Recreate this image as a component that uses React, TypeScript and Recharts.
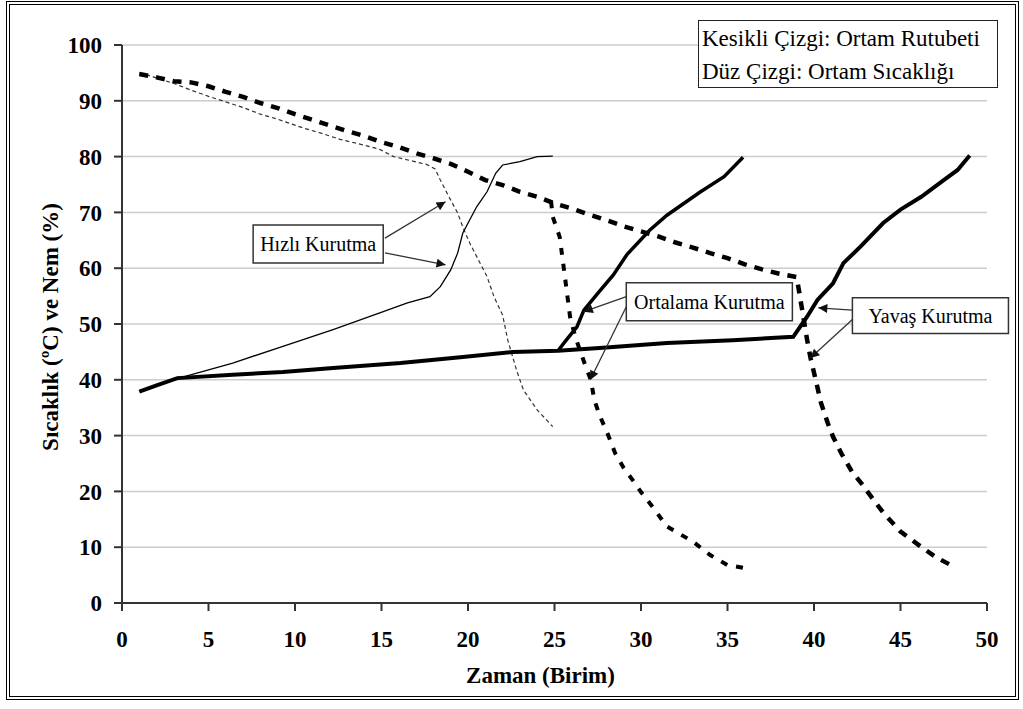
import {
  LineChart,
  Line,
  XAxis,
  YAxis,
  CartesianGrid,
  ReferenceArea,
  ReferenceLine,
} from "recharts";

// Zaman (x) / değer (y) çiftleri
const humYavas = [
  [1, 94.8], [2, 94.2], [3, 93.5], [4, 93.3], [5, 92.6], [6, 91.6], [7, 90.7],
  [8, 89.6], [9, 88.7], [10, 87.6], [11, 86.6], [12, 85.6], [13, 84.6], [14, 83.7],
  [15, 82.6], [16, 81.7], [17, 80.6], [18, 79.7], [19, 78.7], [20, 77.3], [21, 75.8],
  [22, 74.9], [23, 73.7], [24, 72.8], [25, 71.6], [26, 70.7], [27, 69.6], [28, 68.6],
  [29, 67.5], [30, 66.6], [31, 65.7], [32, 64.6], [33, 63.7], [34, 62.7], [35, 61.8],
  [36, 60.7], [37, 59.8], [38, 59.0], [39, 58.4], [39.2, 54.7], [39.6, 47.2],
  [39.8, 43.9], [40.1, 40.0], [40.4, 35.9], [40.8, 32.2], [41.1, 29.8], [41.6, 26.7],
  [42.2, 23.5], [42.8, 21.2], [43.1, 19.9], [44, 16.2], [45, 12.8], [46, 10.5],
  [47, 8.3], [48.2, 6.3],
];

const humOrta = [
  [24.8, 72.0], [24.9, 69.2], [25.3, 65.6], [25.5, 60.9], [25.7, 56.1], [25.9, 51.3],
  [26.2, 47.7], [26.8, 42.4], [27.1, 40.0], [27.3, 36.4], [27.6, 33.7], [28.1, 30.1],
  [28.5, 26.9], [29, 24.2], [29.5, 22.1], [30, 19.9], [30.7, 17.1], [31.5, 13.7],
  [32, 12.8], [33, 11.0], [34, 8.6], [35, 6.8], [35.9, 6.3],
];

const humHizli = [
  [1, 95.0], [1.8, 94.3], [3, 93.1], [4, 91.9], [5, 90.8], [6, 89.8], [7, 88.8],
  [8, 87.6], [9, 86.7], [10.5, 85.1], [11.5, 84.2], [12.6, 83.1], [13.8, 82.2],
  [14.9, 81.3], [15.7, 80.0], [16.8, 79.2], [17.6, 78.6], [18.1, 77.8], [18.4, 75.8],
  [19, 72.2], [19.4, 69.9], [19.7, 67.4], [20.1, 64.5], [20.7, 60.9], [21.1, 58.5],
  [21.5, 54.9], [22, 51.6], [22.3, 47.1], [22.8, 41.8], [23.2, 38.2], [24, 34.6],
  [24.9, 31.6],
];

const tempYavas = [
  [1, 37.9], [2, 39.0], [3.2, 40.3], [6.4, 40.9], [9.3, 41.4], [12.2, 42.1],
  [16.1, 43.0], [19.7, 44.1], [22.6, 45.0], [25.2, 45.2], [27.6, 45.7], [31.5, 46.6],
  [35.3, 47.1], [38.8, 47.7], [39.6, 51.3], [40.2, 54.3], [41.1, 57.3], [41.7, 60.9],
  [42.7, 63.9], [44, 68.1], [45, 70.5], [46.2, 72.8], [47.5, 75.8], [48.3, 77.6],
  [49, 80.2],
];

const tempOrta = [
  [25.2, 45.2], [25.7, 47.2], [26.3, 49.5], [26.7, 52.5], [27.5, 55.5], [28.4, 58.8],
  [29.2, 62.5], [30.5, 66.8], [31.5, 69.5], [33.4, 73.6], [34.8, 76.4], [35.9, 79.9],
];

const tempHizli = [
  [3.5, 40.5], [6.4, 43.0], [9.3, 46.0], [12.2, 49.0], [14.9, 52.0], [16.5, 53.8],
  [17.8, 54.9], [18.4, 56.7], [19, 59.7], [19.4, 62.7], [19.7, 66.3], [20.5, 71.0],
  [21.1, 73.7], [21.6, 77.0], [22, 78.5], [23, 79.1], [24, 80.0], [24.9, 80.1],
];

const xTicks = [0, 5, 10, 15, 20, 25, 30, 35, 40, 45, 50];
const yTicks = [0, 10, 20, 30, 40, 50, 60, 70, 80, 90, 100];

const legendLines = ["Kesikli Çizgi: Ortam Rutubeti", "Düz Çizgi: Ortam Sıcaklığı"];

// açıklama kutuları ve oklar (veri koordinatlarında)
const notes = [
  {
    text: "Hızlı Kurutma",
    box: [7.58, 15.1, 60.95, 67.76],
    arrows: [
      [15.2, 65.4, 18.7, 71.9],
      [15.2, 62.75, 18.7, 60.6],
    ],
  },
  {
    text: "Ortalama Kurutma",
    box: [29.15, 38.75, 50.6, 57.4],
    arrows: [
      [29.15, 54.9, 26.7, 52.2],
      [29.15, 53.1, 27.07, 40.0],
    ],
  },
  {
    text: "Yavaş Kurutma",
    box: [42.22, 51.24, 48.3, 54.7],
    arrows: [
      [42.22, 52.5, 40.25, 52.9],
      [42.22, 50.8, 39.79, 43.9],
    ],
  },
];

const toPts = (a: number[][]) => a.map(([x, y]) => ({ x, y }));

const serif = "Liberation Serif, DejaVu Serif, Times New Roman, serif";
const tickStyle = { fill: "#000", fontSize: 23, fontWeight: "bold", fontFamily: serif };

export default function App() {
  return (
    <div style={{ position: "absolute", left: 0, top: 0, width: 1023, height: 709, background: "#fff" }}>
      <LineChart width={1023} height={709} margin={{ top: 45, right: 36, bottom: 0, left: 0 }}
        style={{ fontFamily: serif }}>
        <defs>
          <marker
            id="okUcu"
            viewBox="0 0 10 10"
            refX="10"
            refY="5"
            markerWidth="13"
            markerHeight="9"
            markerUnits="userSpaceOnUse"
            orient="auto"
          >
            <path d="M0,0 L10,5 L0,10 z" fill="#111" />
          </marker>
        </defs>
        <CartesianGrid vertical={false} stroke="#cccccc" strokeWidth={1.5} />
        <XAxis
          type="number"
          dataKey="x"
          domain={[0, 50]}
          ticks={xTicks}
          height={106}
          tickSize={8}
          tickMargin={20}
          stroke="#333"
          strokeWidth={2}
          tick={tickStyle}
          label={{
            value: "Zaman (Birim)",
            position: "insideBottom",
            offset: 26,
            dx: -14,
            fill: "#000",
            fontSize: 23,
            fontWeight: "bold",
            fontFamily: serif,
          }}
        />
        <YAxis
          type="number"
          domain={[0, 100]}
          ticks={yTicks}
          width={122}
          tickSize={8}
          tickMargin={12}
          stroke="#333"
          strokeWidth={2}
          tick={tickStyle}
          label={{
            value: "Sıcaklık (ºC) ve Nem (%)",
            angle: -90,
            position: "insideLeft",
            offset: 50,
            dy: 3,
            style: { textAnchor: "middle" },
            fill: "#000",
            fontSize: 23,
            fontWeight: "bold",
            fontFamily: serif,
          }}
        />

        <Line data={toPts(humHizli)} dataKey="y" type="linear" stroke="#333" strokeWidth={1.2}
          strokeDasharray="4 3" dot={false} isAnimationActive={false} />
        <Line data={toPts(tempHizli)} dataKey="y" type="linear" stroke="#000" strokeWidth={1.3}
          dot={false} isAnimationActive={false} />
        <Line data={toPts(humOrta)} dataKey="y" type="linear" stroke="#000" strokeWidth={4}
          strokeDasharray="7 9" dot={false} isAnimationActive={false} />
        <Line data={toPts(humYavas)} dataKey="y" type="linear" stroke="#000" strokeWidth={4.5}
          strokeDasharray="9 8" dot={false} isAnimationActive={false} />
        <Line data={toPts(tempOrta)} dataKey="y" type="linear" stroke="#000" strokeWidth={3.5}
          dot={false} isAnimationActive={false} />
        <Line data={toPts(tempYavas)} dataKey="y" type="linear" stroke="#000" strokeWidth={4}
          dot={false} isAnimationActive={false} />

        {notes.map((n) => (
          <ReferenceArea
            key={n.text}
            x1={n.box[0]}
            x2={n.box[1]}
            y1={n.box[2]}
            y2={n.box[3]}
            ifOverflow="visible"
            fill="#fff"
            fillOpacity={1}
            stroke="#333"
            strokeWidth={1.5}
            label={{ value: n.text, position: "center", fill: "#000", fontSize: 20, fontFamily: serif }}
          />
        ))}
        {notes.flatMap((n) =>
          n.arrows.map((a, i) => (
            <ReferenceLine
              key={n.text + i}
              segment={[{ x: a[0], y: a[1] }, { x: a[2], y: a[3] }]}
              ifOverflow="visible"
              shape={(p: any) => (
                <line x1={p.x1} y1={p.y1} x2={p.x2} y2={p.y2} stroke="#333" strokeWidth={1.3}
                  markerEnd="url(#okUcu)" />
              )}
            />
          ))
        )}
      </LineChart>

      <div
        style={{
          position: "absolute",
          left: 698,
          top: 20,
          width: 300,
          height: 68,
          boxSizing: "border-box",
          border: "1.5px solid #222",
          background: "#fff",
          fontFamily: serif,
          fontSize: 23,
          lineHeight: "33px",
          paddingLeft: 3,
          paddingTop: 1,
          color: "#000",
          whiteSpace: "nowrap",
        }}
      >
        {legendLines.map((t) => (
          <div key={t}>{t}</div>
        ))}
      </div>

      <div
        style={{
          position: "absolute",
          left: 6,
          top: 1,
          width: 1013,
          height: 699,
          boxSizing: "border-box",
          border: "4px double #000",
          pointerEvents: "none",
        }}
      />
    </div>
  );
}
